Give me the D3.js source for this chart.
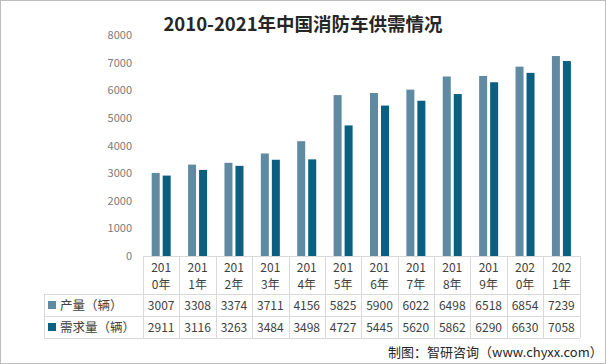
<!DOCTYPE html>
<html><head><meta charset="utf-8">
<script src="https://cdn.jsdelivr.net/npm/d3@7"></script>
<style>body{margin:0;background:#fff}svg{display:block}</style>
</head><body><svg id="c" width="606" height="364"></svg>
<script>
const years = ["2010","2011","2012","2013","2014","2015","2016","2017","2018","2019","2020","2021"];
const production = [3007,3308,3374,3711,4156,5825,5900,6022,6498,6518,6854,7239];
const demand = [2911,3116,3263,3484,3498,4727,5445,5620,5862,6290,6630,7058];
const seriesNames = ["产量（辆）","需求量（辆）"];
const seriesColors = ["#5f8aa2","#0b5f80"];
const yTicks = [0,1000,2000,3000,4000,5000,6000,7000,8000];
const title = "2010-2021年中国消防车供需情况";
const source = "制图：智研咨询（www.chyxx.com）";

const svg = d3.select("#c");
const font = "'Noto Sans CJK SC','Microsoft YaHei',sans-serif";
svg.append("rect").attr("x",0.5).attr("y",0.5).attr("width",605).attr("height",363)
  .attr("fill","#fff").attr("stroke","#bdbdbd");

svg.append("text").attr("x",303).attr("y",31).attr("text-anchor","middle")
  .attr("font-family",font).attr("font-weight","bold").attr("font-size",18.5)
  .attr("fill","#262626").text(title);

const plotLeft = 143, plotRight = 579.6, plotTop = 35, base = 256;
const x = d3.scaleBand().domain(years).range([plotLeft,plotRight]).paddingInner(0).paddingOuter(0);
const y = d3.scaleLinear().domain([0,8000]).range([base,plotTop]);
const inner = d3.scaleBand().domain([0,1]).range([0,x.bandwidth()]).paddingInner(0.273).paddingOuter(0.79);

// y axis labels
const yAxis = d3.axisLeft(y).tickValues(yTicks).tickSize(0).tickPadding(0).tickFormat(d3.format("d"));
const ga = svg.append("g").attr("transform","translate(132,0)").call(yAxis);
ga.select(".domain").remove();
ga.selectAll("text").attr("font-family",font).attr("font-size",11).attr("fill","#7a7a7a");

// bars
const series = [production, demand];
series.forEach((vals,si)=>{
  svg.append("g").selectAll("rect").data(vals).join("rect")
    .attr("x",(d,i)=>x(years[i])+inner(si))
    .attr("width",inner.bandwidth())
    .attr("y",d=>y(d))
    .attr("height",d=>base-y(d))
    .attr("fill",seriesColors[si]);
});

// data table
const grid = "#d9d9d9";
const tableLeft = 44, hdrBottom = 294, row1Bottom = 316, row2Bottom = 338;
const g = svg.append("g").attr("stroke",grid).attr("stroke-width",1).attr("shape-rendering","crispEdges");
g.append("line").attr("x1",plotLeft).attr("x2",plotRight).attr("y1",base+0.5).attr("y2",base+0.5);
[hdrBottom,row1Bottom,row2Bottom].forEach(yy=>{
  g.append("line").attr("x1",tableLeft).attr("x2",plotRight).attr("y1",yy+0.5).attr("y2",yy+0.5);
});
g.append("line").attr("x1",tableLeft+0.5).attr("x2",tableLeft+0.5).attr("y1",hdrBottom).attr("y2",row2Bottom);
years.concat(["end"]).forEach((yr,i)=>{
  const xx = Math.round(plotLeft + i*x.step()) + 0.5;
  g.append("line").attr("x1",xx).attr("x2",xx).attr("y1",base).attr("y2",row2Bottom);
});

const tcol = "#404040";
years.forEach((yr,i)=>{
  const cx = x(yr)+x.bandwidth()/2;
  svg.append("text").attr("x",cx).attr("y",272).attr("text-anchor","middle")
    .attr("font-family",font).attr("font-size",12).attr("fill",tcol).text(yr.slice(0,3));
  svg.append("text").attr("x",cx).attr("y",289).attr("text-anchor","middle")
    .attr("font-family",font).attr("font-size",12).attr("fill",tcol).text(yr.slice(3)+"年");
  svg.append("text").attr("x",cx).attr("y",310).attr("text-anchor","middle")
    .attr("font-family",font).attr("font-size",12).attr("fill",tcol).text(production[i]);
  svg.append("text").attr("x",cx).attr("y",332).attr("text-anchor","middle")
    .attr("font-family",font).attr("font-size",12).attr("fill",tcol).text(demand[i]);
});
seriesNames.forEach((nm,si)=>{
  const cy = si===0 ? 305 : 327;
  svg.append("rect").attr("x",48).attr("y",cy-4).attr("width",8).attr("height",8).attr("fill",seriesColors[si]);
  svg.append("text").attr("x",60).attr("y",cy+4.5)
    .attr("font-family",font).attr("font-size",12.5).attr("fill",tcol).text(nm);
});

svg.append("text").attr("x",388).attr("y",357)
  .attr("font-family",font).attr("font-size",13).attr("fill","#262626").text(source);
</script>
</body></html>
